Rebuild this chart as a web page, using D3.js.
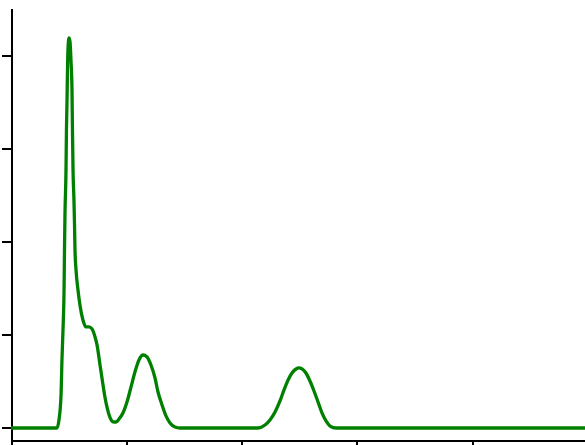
<!DOCTYPE html>
<html>
<head>
<meta charset="utf-8">
<script src="https://cdn.jsdelivr.net/npm/d3@7"></script>
<style>
  html, body { margin: 0; padding: 0; background: #fff; }
  svg { display: block; }
  .axis path, .axis line { stroke: #000; stroke-width: 2; shape-rendering: crispEdges; }
</style>
</head>
<body>
<svg id="chart" width="585" height="445"></svg>
<script>
// Signal trace: horizontal position and intensity
const xValues = [
  0, 0.399, 0.416, 0.434, 0.442, 0.451, 0.460, 0.464, 0.468, 0.477, 0.481, 0.486, 0.490, 0.494,
  0.503, 0.512, 0.520, 0.529, 0.533, 0.538, 0.546, 0.551, 0.555, 0.564, 0.581, 0.598, 0.624,
  0.650, 0.676, 0.703, 0.729, 0.746, 0.772, 0.789, 0.815, 0.833, 0.859, 0.885, 0.911, 0.937,
  0.971, 1.006, 1.041, 1.075, 1.110, 1.145, 1.180, 1.214, 1.249, 1.275, 1.310, 1.344, 1.379,
  1.422, 1.466, 2.142, 2.203, 2.246, 2.290, 2.333, 2.368, 2.403, 2.437, 2.472, 2.498, 2.524,
  2.558, 2.593, 2.628, 2.663, 2.697, 2.732, 2.767, 2.819, 4.98
];
const yValues = [
  0, 0, 0.086, 0.354, 0.730, 1.052, 1.481, 1.910, 2.285, 2.768, 3.197, 3.519, 3.841, 4.056,
  4.185, 4.142, 3.948, 3.627, 3.197, 2.768, 2.446, 2.178, 1.910, 1.695, 1.481, 1.320, 1.159,
  1.084, 1.084, 1.062, 0.976, 0.891, 0.676, 0.536, 0.330, 0.220, 0.110, 0.066, 0.064, 0.097,
  0.161, 0.279, 0.440, 0.601, 0.730, 0.783, 0.762, 0.676, 0.536, 0.386, 0.247, 0.129, 0.054,
  0.011, 0, 0, 0.032, 0.086, 0.172, 0.290, 0.408, 0.515, 0.590, 0.633, 0.644, 0.633,
  0.590, 0.504, 0.397, 0.279, 0.161, 0.075, 0.021, 0, 0
];
const xTicks = [0, 1, 2, 3, 4, 5];
const yTicks = [0, 1, 2, 3, 4];

const svg = d3.select("#chart");

const x = d3.scaleLinear().domain([0, 5]).range([11, 587.5]);
const y = d3.scaleLinear().domain([-0.129, 4.506]).range([440, 8]);

// Vertical axis
svg.append("g")
  .attr("class", "axis")
  .attr("transform", `translate(${x(0)},0)`)
  .call(d3.axisLeft(y).tickValues(yTicks).tickSize(9).tickSizeOuter(0).tickFormat(""));

// Horizontal axis
svg.append("g")
  .attr("class", "axis")
  .attr("transform", `translate(0,${y.range()[0]})`)
  .call(d3.axisBottom(x).tickValues(xTicks).tickSize(8).tickSizeOuter(0).tickFormat(""));

const points = xValues.map((v, i) => [v, yValues[i]]);

const line = d3.line()
  .x(d => x(d[0]))
  .y(d => y(d[1]))
  .curve(d3.curveMonotoneX);

svg.append("path")
  .datum(points)
  .attr("fill", "none")
  .attr("stroke", "#008000")
  .attr("stroke-width", 3.3)
  .attr("stroke-linejoin", "round")
  .attr("d", line);
</script>
</body>
</html>
